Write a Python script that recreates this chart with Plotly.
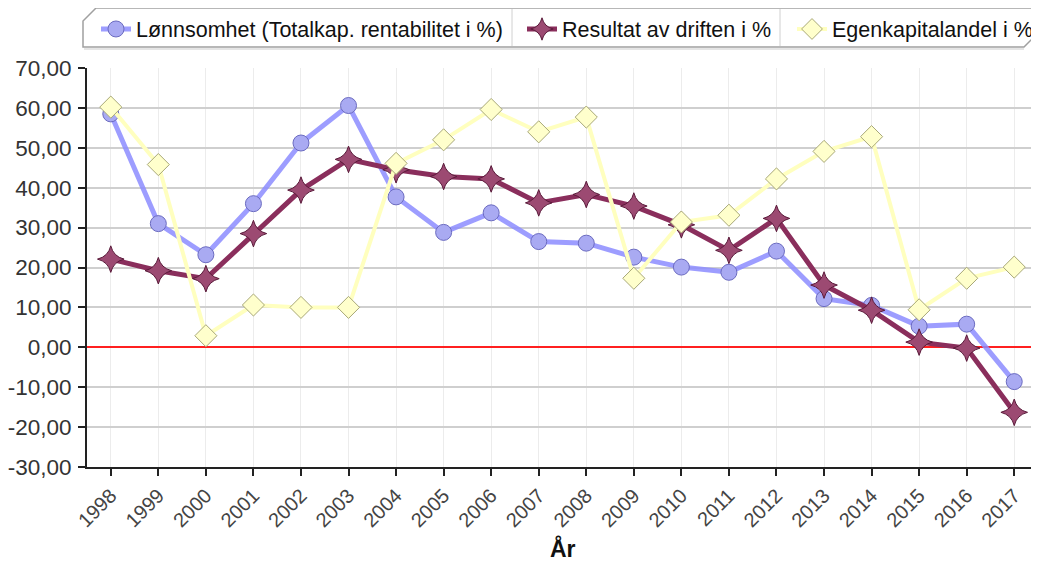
import plotly.graph_objects as go

years = [str(y) for y in range(1998, 2018)]
lonnsomhet = [58.5, 31.0, 23.2, 36.0, 51.2, 60.6, 37.7, 28.8, 33.7, 26.5, 26.1, 22.6, 20.1, 18.8, 24.1, 12.2, 10.5, 5.3, 5.8, -8.6]
resultat = [22.1, 19.2, 17.2, 28.5, 39.4, 47.1, 44.5, 42.8, 42.2, 36.2, 38.3, 35.4, 30.7, 24.3, 32.3, 15.6, 9.3, 1.3, -0.2, -16.3]
egenkapital = [60.2, 45.8, 2.9, 10.6, 10.0, 10.0, 46.1, 52.0, 59.6, 54.0, 57.7, 17.3, 31.4, 33.1, 42.2, 49.1, 52.8, 9.4, 17.3, 20.1]
ytick_vals = [70, 60, 50, 40, 30, 20, 10, 0, -10, -20, -30]
ytick_text = ["70,00", "60,00", "50,00", "40,00", "30,00", "20,00", "10,00", "0,00", "-10,00", "-20,00", "-30,00"]

# page offset caused by default body margin of the html page
OFF = 8
W, H = 1039, 563
# plot area in page pixels: x 87..1038, y 68..467
L, T = 87 - OFF, 68 - OFF
R = W - (1038 - OFF)
B = H - (467 - OFF)
PW, PH = W - L - R, H - T - B


def px(x):  # page pixel -> paper x
    return (x - OFF - L) / PW


def py(y):  # page pixel -> paper y
    return (H - B - (y - OFF)) / PH


fig = go.Figure()
fig.add_trace(go.Scatter(
    x=years, y=lonnsomhet, name="Lønnsomhet (Totalkap. rentabilitet i %)",
    mode="lines+markers", legend="legend",
    line=dict(color="rgba(140,140,255,0.85)", width=5),
    marker=dict(symbol="circle", size=16, color="#a9aaf2", line=dict(color="#6b6bc0", width=1)),
))
fig.add_trace(go.Scatter(
    x=years, y=resultat, name="Resultat av driften i %",
    mode="lines+markers", legend="legend2",
    line=dict(color="#8a2e5c", width=5),
    marker=dict(symbol="star-diamond", size=19, color="#9c4a72", line=dict(color="#5a1a3a", width=1)),
))
fig.add_trace(go.Scatter(
    x=years, y=egenkapital, name="Egenkapitalandel i %",
    mode="lines+markers", legend="legend3",
    line=dict(color="#ffffbf", width=4),
    marker=dict(symbol="diamond", size=17, color="#ffffcc", line=dict(color="#a8a878", width=1)),
))

# legend frame (tab-like box with cut corners) and dividers
frame = (f"M {px(83)},{py(47)} L {px(83)},{py(21)} L {px(96)},{py(8)} "
         f"L {px(1037)},{py(8)} L {px(1037)},{py(34)} L {px(1024)},{py(47)} Z")
shapes = [
    dict(type="path", path=frame, xref="paper", yref="paper",
         line=dict(color="#a0a0a0", width=1.5), fillcolor="white", layer="below"),
    dict(type="line", xref="paper", yref="paper", x0=px(84), x1=px(1024), y0=py(49), y1=py(49),
         line=dict(color="#dddddd", width=1.5)),
    dict(type="line", xref="paper", yref="paper", x0=px(512), x1=px(512), y0=py(9), y1=py(46),
         line=dict(color="#d0d0d0", width=1)),
    dict(type="line", xref="paper", yref="paper", x0=px(780), x1=px(780), y0=py(9), y1=py(46),
         line=dict(color="#d0d0d0", width=1)),
]

legend_common = dict(orientation="h", xanchor="left", yanchor="middle",
                     bgcolor="rgba(0,0,0,0)", borderwidth=0,
                     font=dict(size=21.5, color="#111"))

fig.update_layout(
    width=W, height=H,
    margin=dict(l=L, r=R, t=T, b=B, autoexpand=False),
    paper_bgcolor="white", plot_bgcolor="white",
    font=dict(family="Liberation Sans, Arial, sans-serif", size=18, color="#333"),
    showlegend=True,
    legend=dict(x=px(96), y=py(29), **legend_common),
    legend2=dict(x=px(522), y=py(29), **legend_common),
    legend3=dict(x=px(792), y=py(29), **legend_common),
    shapes=shapes,
    annotations=[dict(text="<b>År</b>", xref="paper", yref="paper", x=px(563), y=py(548),
                      xanchor="center", yanchor="middle", showarrow=False,
                      font=dict(size=23, color="#111"))],
    xaxis=dict(
        type="category", range=[-0.5, 19.5], automargin=False,
        tickangle=-45, ticks="outside", ticklen=7, tickcolor="#222", tickwidth=1.5,
        showline=True, linecolor="#222", linewidth=2,
        showgrid=True, gridcolor="#ececec", gridwidth=1,
        tickfont=dict(size=20, color="#444"),
    ),
    yaxis=dict(
        range=[-30, 70], tickvals=ytick_vals, ticktext=ytick_text, automargin=False,
        ticks="outside", ticklen=7, tickcolor="#222", tickwidth=1.5,
        ticklabelstandoff=2,
        showline=True, linecolor="#222", linewidth=2,
        showgrid=True, gridcolor="#cfcfcf", gridwidth=1.5,
        zeroline=True, zerolinecolor="#ff2020", zerolinewidth=2,
        tickfont=dict(size=22.5, color="#333"),
    ),
)

fig.write_html("out.html")
